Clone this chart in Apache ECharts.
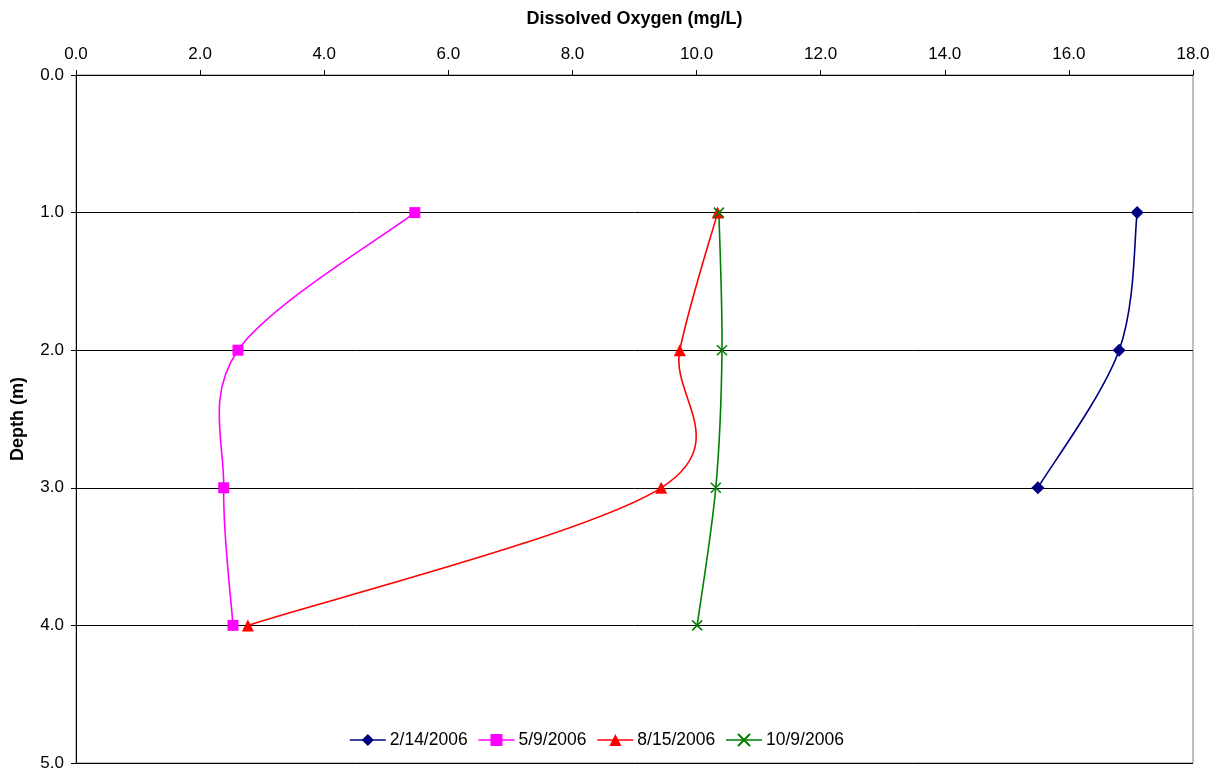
<!DOCTYPE html>
<html>
<head>
<meta charset="utf-8">
<script src="https://cdn.jsdelivr.net/npm/echarts@6/dist/echarts.min.js"></script>
<style>html,body{margin:0;padding:0;background:#fff;}#chart{width:1224px;height:775px;}</style>
</head>
<body>
<div id="chart"></div>
<script>
const depths = [1, 2, 3, 4];
const seriesNames = ['2/14/2006', '5/9/2006', '8/15/2006', '10/9/2006'];
const do_0214 = [17.10, 16.81, 15.50];
const do_0509 = [5.46, 2.61, 2.38, 2.53];
const do_0815 = [10.34, 9.73, 9.43, 2.77];
const do_1009 = [10.36, 10.41, 10.31, 10.01];
const xTicks = [0, 2, 4, 6, 8, 10, 12, 14, 16, 18];
const yTicks = [0, 1, 2, 3, 4, 5];

const colors = ['#000080', '#FF00FF', '#FF0000', '#008000'];
const symbols = ['diamond', 'rect', 'triangle', 'path://M0,0 L10,10 M10,0 L0,10'];
const symbolSizes = [13, 11, 12, 10];
const allValues = [do_0214, do_0509, do_0815, do_1009];

const font = 'Liberation Sans, Arial, sans-serif';

function makeData(vals) { return vals.map((v, k) => [v, depths[k]]); }

// Smooth (Excel-like Catmull-Rom) curve segments drawn via the axes' coordinate system
function curveSeries(i) {
  const data = makeData(allValues[i]);
  return {
    type: 'custom',
    coordinateSystem: 'cartesian2d',
    data: data,
    silent: true,
    z: 2,
    clip: true,
    renderItem: function (params, api) {
      const k = params.dataIndex;
      const n = data.length;
      if (k >= n - 1) return null;
      const p0 = api.coord(data[Math.max(k - 1, 0)]);
      const p1 = api.coord(data[k]);
      const p2 = api.coord(data[k + 1]);
      const p3 = api.coord(data[Math.min(k + 2, n - 1)]);
      return {
        type: 'bezierCurve',
        shape: {
          x1: p1[0], y1: p1[1], x2: p2[0], y2: p2[1],
          cpx1: p1[0] + (p2[0] - p0[0]) / 6, cpy1: p1[1] + (p2[1] - p0[1]) / 6,
          cpx2: p2[0] - (p3[0] - p1[0]) / 6, cpy2: p2[1] - (p3[1] - p1[1]) / 6
        },
        style: { stroke: colors[i], lineWidth: 1.6, fill: null }
      };
    }
  };
}

const markerSeries = seriesNames.map((name, i) => ({
  name: name,
  type: 'line',
  data: makeData(allValues[i]),
  symbol: symbols[i],
  symbolSize: symbolSizes[i],
  showAllSymbol: true,
  lineStyle: { color: colors[i], width: 1.6, opacity: 0 },
  itemStyle: i === 3
    ? { color: colors[i], borderColor: colors[i], borderWidth: 1.5 }
    : { color: colors[i], borderWidth: 0 },
  emphasis: { disabled: true },
  z: 3
}));

const chart = echarts.init(document.getElementById('chart'), null, { renderer: 'canvas' });
chart.setOption({
  animation: false,
  backgroundColor: '#fff',
  grid: {
    left: 76, top: 75, width: 1117, height: 688,
    show: true, borderColor: '#808080', borderWidth: 1, backgroundColor: 'transparent'
  },
  legend: {
    left: 344, top: 726,
    itemWidth: 36, itemHeight: 15, itemGap: 10,
    textStyle: { fontFamily: font, fontSize: 17.5, color: '#000', padding: [0, 0, 0, -1] },
    data: seriesNames.map((name, i) => ({
      name: name,
      lineStyle: { color: colors[i], width: 1.6, opacity: 1 }
    })),
    backgroundColor: '#fff'
  },
  xAxis: {
    type: 'value', position: 'top',
    min: 0, max: 18, interval: 2,
    name: 'Dissolved Oxygen (mg/L)', nameLocation: 'middle', nameGap: 47,
    nameTextStyle: { fontFamily: font, fontSize: 18, fontWeight: 'bold', color: '#000' },
    axisLine: { show: true, lineStyle: { color: '#000', width: 1 } },
    axisTick: { show: true, inside: false, length: 5, lineStyle: { color: '#000' } },
    axisLabel: { fontFamily: font, fontSize: 17, color: '#000', margin: 12,
      formatter: v => v.toFixed(1) },
    splitLine: { show: false }
  },
  yAxis: {
    type: 'value', inverse: true,
    min: 0, max: 5, interval: 1,
    name: 'Depth (m)', nameLocation: 'middle', nameGap: 49, nameRotate: 90,
    nameTextStyle: { fontFamily: font, fontSize: 18, fontWeight: 'bold', color: '#000' },
    axisLine: { show: true, lineStyle: { color: '#000', width: 1 } },
    axisTick: { show: true, inside: false, length: 5, lineStyle: { color: '#000' } },
    axisLabel: { fontFamily: font, fontSize: 17, color: '#000', margin: 12,
      formatter: v => v.toFixed(1) },
    splitLine: { show: true, lineStyle: { color: '#000', width: 1 } }
  },
  series: markerSeries.concat(seriesNames.map((_, i) => curveSeries(i)))
});
</script>
</body>
</html>
